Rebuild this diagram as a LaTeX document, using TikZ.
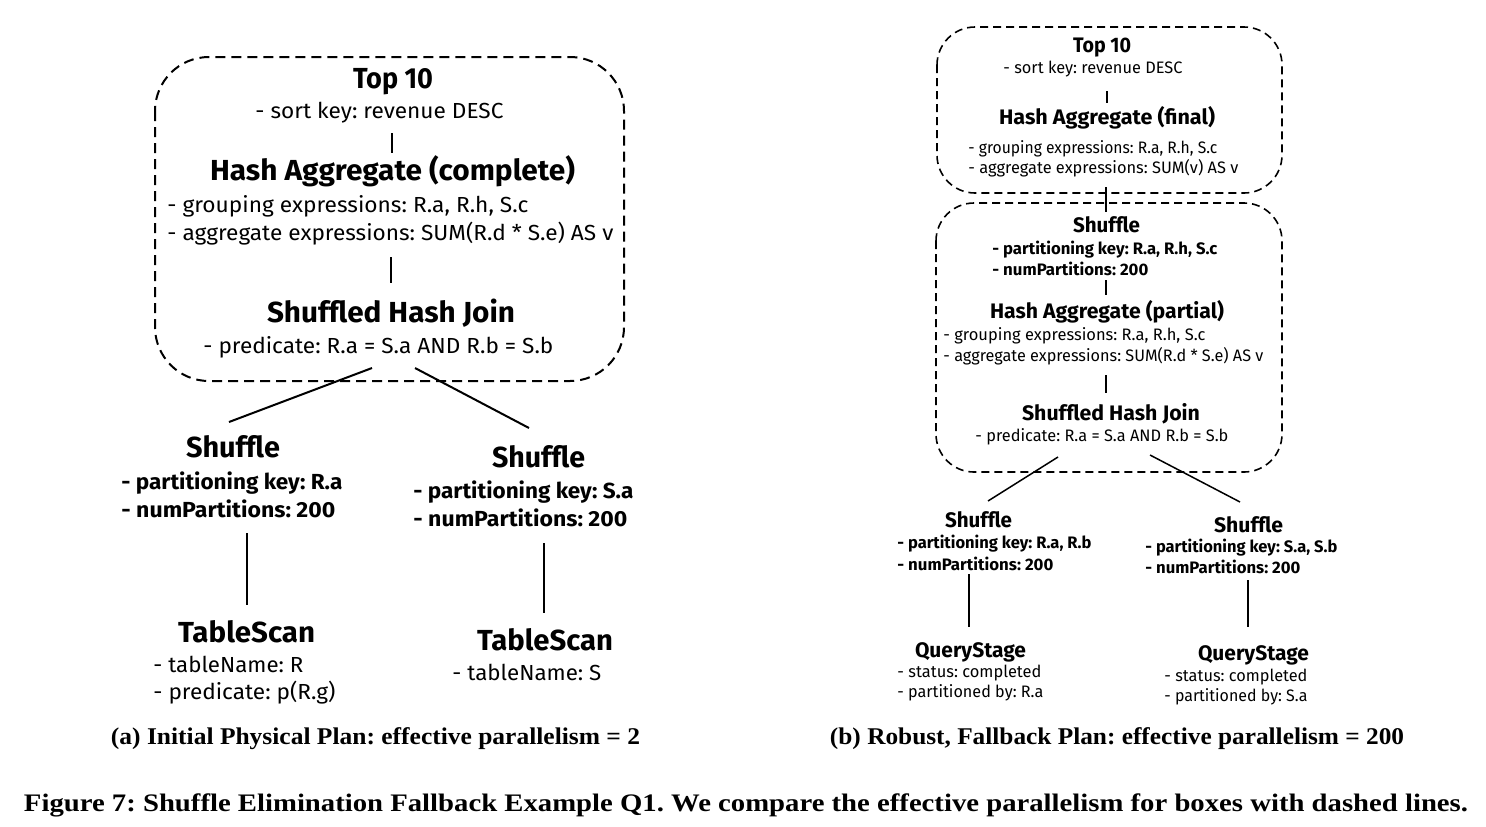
\documentclass[tikz,border=0pt]{standalone}
\usepackage{graphicx}
\usepackage{fontspec}
\setmainfont{Fira Sans}
\newfontfamily\capfont{Liberation Serif}
\frenchspacing
\newlength\px
\setlength\px{0.5pt}
\newcommand\tw[2]{\resizebox{#1\px}{\height}{#2}}
\newcommand\LT{\fontsize{14.5}{16}\selectfont\bfseries}
\newcommand\LR{\fontsize{10.9}{13}\selectfont}
\newcommand\LB{\fontsize{10.9}{13}\selectfont\bfseries}
\newcommand\RT{\fontsize{10.5}{12}\selectfont\bfseries}
\newcommand\RR{\fontsize{8.3}{10}\selectfont}
\newcommand\RB{\fontsize{8.3}{10}\selectfont\bfseries}
\newcommand\CA{\capfont\fontsize{12}{14}\selectfont\bfseries}
\newcommand\CF{\capfont\fontsize{12.6}{15}\selectfont\bfseries}
\tikzset{
  t/.style={inner sep=0pt, anchor=base west},
  tc/.style={inner sep=0pt, anchor=base},
  connL/.style={line width=1pt, black},
  connR/.style={line width=0.75pt, black},
  dboxL/.style={line width=1pt, dash pattern=on 5pt off 3pt, rounded corners=27pt},
  dboxR/.style={line width=0.8pt, dash pattern=on 4pt off 2.5pt, rounded corners=19pt},
}
\begin{document}
\begin{tikzpicture}[x=0.5pt,y=-0.5pt]
\useasboundingbox[fill=white] (0,0) rectangle (1486,826);

% ---------------- left panel ----------------
\draw[dboxL] (155,57) rectangle (624,381);
\node[tc,font=\LT] (lTop) at (393,88) {\tw{80}{Top 10}};
\node[t,font=\LR] (lTopK) at (255,118) {\tw{248}{- sort key: revenue DESC}};
\node[tc,font=\LT] (lAgg) at (392.5,180) {\tw{365}{Hash Aggregate (complete)}};
\node[t,font=\LR] (lAggG) at (167,212) {\tw{361}{- grouping expressions: R.a, R.h, S.c}};
\node[t,font=\LR] (lAggA) at (167,240) {\tw{446}{- aggregate expressions: SUM(R.d * S.e) AS v}};
\node[tc,font=\LT] (lJoin) at (391,322) {\tw{248}{Shuffled Hash Join}};
\node[t,font=\LR] (lJoinP) at (203,353) {\tw{350}{- predicate: R.a = S.a AND R.b = S.b}};

\node[tc,font=\LT] (lShL) at (233,457) {\tw{94}{Shuffle}};
\node[t,font=\LB] (lShLk) at (121,489) {\tw{221}{- partitioning key: R.a}};
\node[t,font=\LB] (lShLn) at (121,517) {\tw{214}{- numPartitions: 200}};
\node[tc,font=\LT] (lTsL) at (246.5,642) {\tw{137}{TableScan}};
\node[t,font=\LR] (lTsLn) at (153,672) {\tw{150}{- tableName: R}};
\node[t,font=\LR] (lTsLp) at (153,699) {\tw{182}{- predicate: p(R.g)}};

\node[tc,font=\LT] (lShR) at (538.5,467) {\tw{93}{Shuffle}};
\node[t,font=\LB] (lShRk) at (413,498) {\tw{220}{- partitioning key: S.a}};
\node[t,font=\LB] (lShRn) at (413,526) {\tw{214}{- numPartitions: 200}};
\node[tc,font=\LT] (lTsR) at (545,650) {\tw{136}{TableScan}};
\node[t,font=\LR] (lTsRn) at (452,680) {\tw{149}{- tableName: S}};

\coordinate (la1) at (392,133); \coordinate (la2) at (392,153);
\coordinate (lb1) at (391,257); \coordinate (lb2) at (391,283);
\coordinate (lc1) at (372,368); \coordinate (lc2) at (229,422);
\coordinate (ld1) at (415,368); \coordinate (ld2) at (529,428);
\coordinate (le1) at (247,533); \coordinate (le2) at (247,605);
\coordinate (lf1) at (544,543); \coordinate (lf2) at (544,613);
\draw[connL] (la1) -- (la2);
\draw[connL] (lb1) -- (lb2);
\draw[connL] (lc1) -- (lc2);
\draw[connL] (ld1) -- (ld2);
\draw[connL] (le1) -- (le2);
\draw[connL] (lf1) -- (lf2);

% ---------------- right panel ----------------
\draw[dboxR] (937,27) rectangle (1282,193);
\draw[dboxR] (936,203) rectangle (1282,472);

\node[tc,font=\RT] (rTop) at (1102,52) {\tw{58}{Top 10}};
\node[t,font=\RR] (rTopK) at (1003,73) {\tw{179}{- sort key: revenue DESC}};
\node[tc,font=\RT] (rAggF) at (1107,124) {\tw{216}{Hash Aggregate (final)}};
\node[t,font=\RR] (rAggFg) at (968,153) {\tw{249}{- grouping expressions: R.a, R.h, S.c}};
\node[t,font=\RR] (rAggFa) at (968,173) {\tw{270}{- aggregate expressions: SUM(v) AS v}};

\node[tc,font=\RT] (rSh) at (1106.5,232) {\tw{67}{Shuffle}};
\node[t,font=\RB] (rShk) at (992,254) {\tw{225}{- partitioning key: R.a, R.h, S.c}};
\node[t,font=\RB] (rShn) at (992,275) {\tw{156}{- numPartitions: 200}};
\node[tc,font=\RT] (rAggP) at (1107,318) {\tw{234}{Hash Aggregate (partial)}};
\node[t,font=\RR] (rAggPg) at (943,340) {\tw{262}{- grouping expressions: R.a, R.h, S.c}};
\node[t,font=\RR] (rAggPa) at (943,361) {\tw{320}{- aggregate expressions: SUM(R.d * S.e) AS v}};
\node[tc,font=\RT] (rJoin) at (1111,420) {\tw{178}{Shuffled Hash Join}};
\node[t,font=\RR] (rJoinP) at (975,441) {\tw{253}{- predicate: R.a = S.a AND R.b = S.b}};

\node[tc,font=\RT] (rShL) at (978.5,527) {\tw{67}{Shuffle}};
\node[t,font=\RB] (rShLk) at (897,548) {\tw{194}{- partitioning key: R.a, R.b}};
\node[t,font=\RB] (rShLn) at (897,570) {\tw{156}{- numPartitions: 200}};
\node[tc,font=\RT] (rQsL) at (970.5,657) {\tw{111}{QueryStage}};
\node[t,font=\RR] (rQsLs) at (897,677) {\tw{144}{- status: completed}};
\node[t,font=\RR] (rQsLp) at (897,697) {\tw{146}{- partitioned by: R.a}};

\node[tc,font=\RT] (rShR) at (1248.5,532) {\tw{69}{Shuffle}};
\node[t,font=\RB] (rShRk) at (1145,552) {\tw{192}{- partitioning key: S.a, S.b}};
\node[t,font=\RB] (rShRn) at (1145,573) {\tw{155}{- numPartitions: 200}};
\node[tc,font=\RT] (rQsR) at (1253.5,660) {\tw{111}{QueryStage}};
\node[t,font=\RR] (rQsRs) at (1164,681) {\tw{143}{- status: completed}};
\node[t,font=\RR] (rQsRp) at (1164,701) {\tw{143}{- partitioned by: S.a}};

\coordinate (ra1) at (1107,91); \coordinate (ra2) at (1107,103);
\coordinate (rb1) at (1106,187); \coordinate (rb2) at (1106,212);
\coordinate (rc1) at (1106,280); \coordinate (rc2) at (1106,295);
\coordinate (rd1) at (1106,375); \coordinate (rd2) at (1106,393);
\coordinate (re1) at (1058,457); \coordinate (re2) at (988,501);
\coordinate (rf1) at (1150,455); \coordinate (rf2) at (1240,502);
\coordinate (rg1) at (969,574); \coordinate (rg2) at (969,627);
\coordinate (rh1) at (1248,580); \coordinate (rh2) at (1248,627);
\draw[connR] (ra1) -- (ra2);
\draw[connR] (rb1) -- (rb2);
\draw[connR] (rc1) -- (rc2);
\draw[connR] (rd1) -- (rd2);
\draw[connR] (re1) -- (re2);
\draw[connR] (rf1) -- (rf2);
\draw[connR] (rg1) -- (rg2);
\draw[connR] (rh1) -- (rh2);

% ---------------- captions ----------------
\node[tc,font=\CA] (capA) at (375.5,744) {\tw{529}{(a) Initial Physical Plan: effective parallelism = 2}};
\node[tc,font=\CA] (capB) at (1117,744) {\tw{574}{(b) Robust, Fallback Plan: effective parallelism = 200}};
\node[tc,font=\CF] (capF) at (746,811) {\tw{1444}{Figure 7: Shuffle Elimination Fallback Example Q1. We compare the effective parallelism for boxes with dashed lines.}};
\end{tikzpicture}
\end{document}
